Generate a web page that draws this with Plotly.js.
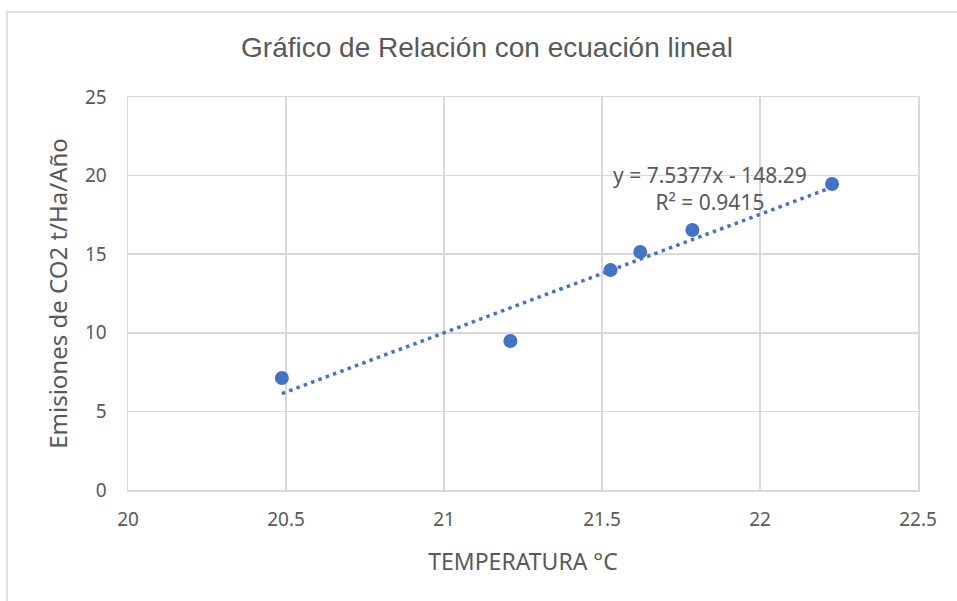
<!DOCTYPE html>
<html>
<head>
<meta charset="utf-8">
<script src="https://cdn.plot.ly/plotly-3.0.1.min.js"></script>
<style>
html,body{margin:0;padding:0;background:#fff;}
#chart{width:957px;height:601px;}
</style>
</head>
<body>
<div id="chart"></div>
<script>
// Data
const temperatura = [20.487, 21.210, 21.527, 21.621, 21.786, 22.228];
const emisiones   = [7.12, 9.48, 13.99, 15.14, 16.54, 19.47];
const slope = 7.5377;
const intercept = -148.29;
const rSquared = 0.9415;
const xTicks = [20, 20.5, 21, 21.5, 22, 22.5];
const yTicks = [0, 5, 10, 15, 20, 25];

const xMin = Math.min(...temperatura);
const xMax = Math.max(...temperatura);
const trendX = [xMin, xMax];
const trendY = trendX.map(x => slope * x + intercept);

const blue = '#4472C4';
const grey = '#595959';
const grid = '#D9D9D9';
const fontFam = '"Noto Sans", "Open Sans", sans-serif';

const traces = [
  {
    x: trendX, y: trendY, type: 'scatter', mode: 'lines',
    line: {color: blue, width: 3.5, dash: '3.5px,4.3px'},
    hoverinfo: 'skip', showlegend: false
  },
  {
    x: temperatura, y: emisiones, type: 'scatter', mode: 'markers',
    marker: {color: blue, size: 14},
    showlegend: false
  }
];

const layout = {
  width: 957, height: 601,
  margin: {l: 128, r: 39, t: 97, b: 111},
  paper_bgcolor: '#fff', plot_bgcolor: '#fff',
  showlegend: false,
  title: {
    text: 'Gráfico de Relación con ecuación lineal',
    font: {family: '"Liberation Sans", Arial, sans-serif', size: 28, color: grey},
    x: 487/957, xanchor: 'center', xref: 'container',
    y: 1 - 47/601, yanchor: 'middle', yref: 'container'
  },
  xaxis: {
    range: [20, 22.5], tickvals: xTicks, ticktext: xTicks.map(String),
    showgrid: true, gridcolor: grid, gridwidth: 1.5,
    zeroline: false, showline: true, linecolor: grid, linewidth: 1.5, mirror: true,
    ticks: '', ticklabelstandoff: 12,
    tickfont: {family: fontFam, size: 19, color: grey},
    title: {text: 'TEMPERATURA °C', font: {family: fontFam, size: 23, color: grey}, standoff: 22},
    fixedrange: true
  },
  yaxis: {
    range: [0, 25], tickvals: yTicks, ticktext: yTicks.map(String),
    showgrid: true, gridcolor: grid, gridwidth: 1.5,
    zeroline: false, showline: true, linecolor: grid, linewidth: 1.5, mirror: true,
    ticks: '', ticklabelstandoff: 16,
    tickfont: {family: fontFam, size: 19, color: grey},
    title: {text: 'Emisiones de CO2 t/Ha/Año', font: {family: fontFam, size: 24, color: grey}, standoff: 10},
    fixedrange: true
  },
  annotations: [
    {
      xref: 'x', yref: 'y', x: 21.843, y: 19.2,
      text: 'y = ' + slope.toFixed(4) + 'x - ' + Math.abs(intercept).toFixed(2) + '<br>R² = ' + rSquared.toFixed(4),
      showarrow: false, align: 'center', xanchor: 'center', yanchor: 'middle',
      font: {family: fontFam, size: 21, color: grey}
    }
  ],
  shapes: [
    {
      type: 'rect', xref: 'paper', yref: 'paper',
      x0: (7 - 128) / 790, x1: (965 - 128) / 790,
      y0: (490 - 610) / 393, y1: (490 - 12) / 393,
      line: {color: grid, width: 1.5}, fillcolor: 'rgba(0,0,0,0)', layer: 'below'
    }
  ]
};

Plotly.newPlot('chart', traces, layout, {displayModeBar: false, staticPlot: true});
</script>
</body>
</html>
